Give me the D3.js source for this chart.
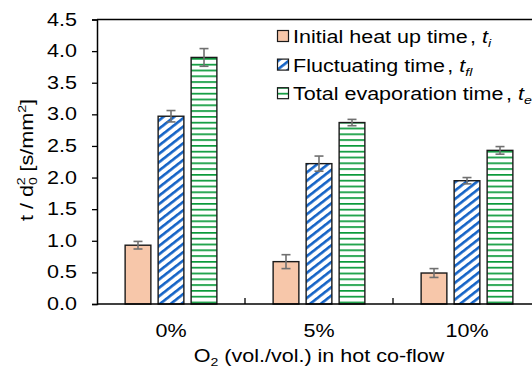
<!DOCTYPE html>
<html>
<head>
<meta charset="utf-8">
<script src="https://cdn.jsdelivr.net/npm/d3@7"></script>
<style>
  body { margin: 0; background: #fff; }
  svg { display: block; font-family: "Liberation Sans", Arial, sans-serif; }
</style>
</head>
<body>
<svg id="chart" width="532" height="367"></svg>
<script>
// categories and series
const categories = ["0%", "5%", "10%"];
const series = ["ti", "tfl", "te"];
// mean values, t / d0^2 [s/mm2]
const heatUp = [0.93, 0.67, 0.49];
const fluct = [2.97, 2.22, 1.95];
const total = [3.90, 2.87, 2.43];
// error bar half widths
const heatUpErr = [0.06, 0.11, 0.07];
const fluctErr = [0.09, 0.12, 0.05];
const totalErr = [0.14, 0.05, 0.06];
const yTicks = [0, 0.5, 1, 1.5, 2, 2.5, 3, 3.5, 4, 4.5];
const legendNames = ["Initial heat up time", "Fluctuating time", "Total evaporation time"];
const legendSubs = ["i", "fl", "e"];

var values = [heatUp, fluct, total];
var errs = [heatUpErr, fluctErr, totalErr];

// the original text is drawn wide, so stretch it sideways
const FONT = 17.5;
const STRETCH = 1.23;

var svg = d3.select("#chart");
var pLeft = 97, pRight = 541, pTop = 19.5, pBottom = 304;

var defs = svg.append("defs");

// blue diagonal hatch
var pb = defs.append("pattern")
    .attr("id", "hatchBlue")
    .attr("patternUnits", "userSpaceOnUse")
    .attr("width", 8).attr("height", 6.6)
    .attr("patternTransform", "rotate(-38)");
pb.append("rect").attr("width", 8).attr("height", 6.6).attr("fill", "#fff");
pb.append("rect").attr("x", 0).attr("y", 0).attr("width", 8).attr("height", 2.6).attr("fill", "#1463c6");

// green horizontal lines
var pg = defs.append("pattern")
    .attr("id", "hatchGreen")
    .attr("patternUnits", "userSpaceOnUse")
    .attr("width", 8).attr("height", 5.8);
pg.append("rect").attr("width", 8).attr("height", 5.8).attr("fill", "#fff");
pg.append("rect").attr("x", 0).attr("y", 0).attr("width", 8).attr("height", 1.7).attr("fill", "#0a9a3a");

var fills = ["#f7c7aa", "url(#hatchBlue)", "url(#hatchGreen)"];

var x0 = d3.scaleBand()
    .domain(categories)
    .range([pLeft, pRight])
    .paddingInner(0.331)
    .paddingOuter(0.1655);

var x1 = d3.scaleBand()
    .domain(series)
    .range([0, x0.bandwidth()])
    .paddingInner(0.22)
    .paddingOuter(0.11);

var y = d3.scaleLinear()
    .domain([0, 4.5])
    .range([pBottom, pTop]);

// bars
series.forEach(function (s, i) {
    svg.append("g").selectAll("rect")
        .data(categories)
        .enter()
        .append("rect")
        .attr("x", function (c) { return x0(c) + x1(s); })
        .attr("y", function (c, j) { return y(values[i][j]); })
        .attr("width", x1.bandwidth())
        .attr("height", function (c, j) { return y(0) - y(values[i][j]); })
        .attr("fill", fills[i])
        .attr("stroke", "#1a1a1a")
        .attr("stroke-width", 1.4);
});

// error bars
series.forEach(function (s, i) {
    var g = svg.append("g").attr("stroke", "#707070").attr("stroke-width", 1.6);
    categories.forEach(function (c, j) {
        var cx = x0(c) + x1(s) + x1.bandwidth() / 2;
        var hi = y(values[i][j] + errs[i][j]);
        var lo = y(values[i][j] - errs[i][j]);
        g.append("line").attr("x1", cx).attr("x2", cx).attr("y1", hi).attr("y2", lo);
        g.append("line").attr("x1", cx - 4.5).attr("x2", cx + 4.5).attr("y1", hi).attr("y2", hi);
        g.append("line").attr("x1", cx - 4.5).attr("x2", cx + 4.5).attr("y1", lo).attr("y2", lo);
    });
});

// y axis
var yAxis = svg.append("g")
    .attr("transform", "translate(" + pLeft + ",0)")
    .call(d3.axisLeft(y).tickValues(yTicks).tickFormat(d3.format(".1f")).tickSize(5).tickPadding(6));
yAxis.select(".domain").attr("stroke", "#000").attr("stroke-width", 1.5);
yAxis.selectAll(".tick line").attr("stroke", "#000").attr("stroke-width", 1.3);
yAxis.selectAll(".tick text")
    .attr("x", 0)
    .attr("transform", "translate(-20,0) scale(" + STRETCH + ",1)")
    .attr("font-size", FONT + "px").attr("fill", "#000")
    .attr("font-family", "Liberation Sans, Arial, sans-serif");

// x axis baseline, top frame, category separators
svg.append("line")
    .attr("x1", pLeft).attr("x2", pRight)
    .attr("y1", pBottom).attr("y2", pBottom)
    .attr("stroke", "#000").attr("stroke-width", 1.5);
svg.append("line")
    .attr("x1", pLeft).attr("x2", pRight)
    .attr("y1", pTop).attr("y2", pTop)
    .attr("stroke", "#000").attr("stroke-width", 1.3);
var step = x0.step();
svg.append("g").selectAll("line")
    .data(categories.slice(1))
    .enter()
    .append("line")
    .attr("x1", function (c) { return x0(c) + x0.bandwidth() / 2 - step / 2; })
    .attr("x2", function (c) { return x0(c) + x0.bandwidth() / 2 - step / 2; })
    .attr("y1", pBottom).attr("y2", pBottom - 6)
    .attr("stroke", "#000").attr("stroke-width", 1.3);

svg.append("g").selectAll("text")
    .data(categories)
    .enter()
    .append("text")
    .attr("transform", function (c) {
        return "translate(" + (x0(c) + x0.bandwidth() / 2) + ",337) scale(" + STRETCH + ",1)";
    })
    .attr("text-anchor", "middle")
    .attr("font-size", FONT + "px")
    .text(function (c) { return c; });

// axis titles
var xt = svg.append("text")
    .attr("transform", "translate(" + (pLeft + pRight) / 2 + ",362) scale(" + STRETCH + ",1)")
    .attr("text-anchor", "middle")
    .attr("font-size", FONT + "px");
xt.append("tspan").text("O");
xt.append("tspan").attr("font-size", "11.5px").attr("dy", 4).text("2");
xt.append("tspan").attr("dy", -4).text(" (vol./vol.) in hot co-flow");

var yt = svg.append("text")
    .attr("transform", "translate(33,160) rotate(-90) scale(" + STRETCH + ",1)")
    .attr("text-anchor", "middle")
    .attr("font-size", FONT + "px");
yt.append("tspan").text("t / d");
yt.append("tspan").attr("font-size", "11.5px").attr("dy", 4).text("0");
yt.append("tspan").attr("font-size", "11.5px").attr("dy", -12).attr("dx", -6.5).text("2");
yt.append("tspan").attr("dy", 8).text(" [s/mm");
yt.append("tspan").attr("font-size", "11.5px").attr("dy", -7).text("2");
yt.append("tspan").attr("dy", 7).text("]");

// legend
var leg = svg.append("g");
legendNames.forEach(function (name, i) {
    var base = 43 + i * 28.6;
    leg.append("rect")
        .attr("x", 277.5).attr("y", base - 12.5)
        .attr("width", 11).attr("height", 11)
        .attr("fill", fills[i])
        .attr("stroke", "#1a1a1a").attr("stroke-width", 1.2);
    var t = leg.append("text")
        .attr("transform", "translate(293," + base + ") scale(" + STRETCH + ",1)")
        .attr("font-size", FONT + "px");
    t.append("tspan").text(name);
    t.append("tspan").attr("dx", 2).text(", ");
    t.append("tspan").attr("font-style", "italic").text("t");
    t.append("tspan").attr("font-style", "italic").attr("font-size", "11.5px").attr("dy", 4).text(legendSubs[i]);
});
</script>
</body>
</html>
